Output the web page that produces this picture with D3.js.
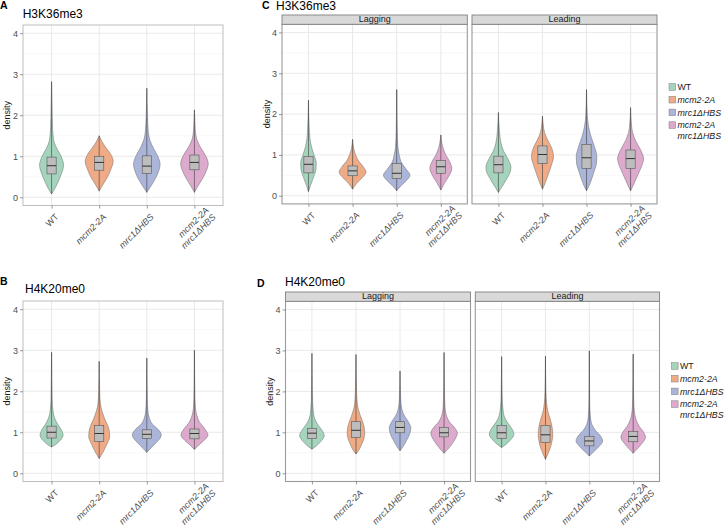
<!DOCTYPE html>
<html><head><meta charset="utf-8">
<script src="https://cdn.jsdelivr.net/npm/d3@7"></script>
<style>body{margin:0;background:#fff}svg{font-family:"Liberation Sans",Arial,sans-serif}</style>
</head><body><svg id="c" width="727" height="529"></svg>
<script>
// ---------- data ----------
const genotypes = ["WT", "mcm2-2A", "mrc1ΔHBS", "mcm2-2A\nmrc1ΔHBS"];
const genotypeColors = ["#a5d4bd", "#eeab86", "#abb5d9", "#dda9cc"];
const strands = ["Lagging", "Leading"];
const yTicks = [0, 1, 2, 3, 4];
const yMinorTicks = [0.5, 1.5, 2.5, 3.5];
const marks = ["A", "B", "C", "D"];
const titles = ["H3K36me3", "H4K20me0", "H3K36me3", "H4K20me0"];

// box stats per genotype: [q1, median, q3]
const boxH3All  = [[0.57,0.77,0.98],[0.66,0.85,1.00],[0.58,0.76,1.01],[0.67,0.85,1.03]];
const boxH4All  = [[0.86,1.00,1.15],[0.78,0.97,1.17],[0.85,0.95,1.06],[0.84,0.97,1.08]];
const boxH3Lag  = [[0.56,0.77,0.96],[0.49,0.61,0.73],[0.42,0.55,0.79],[0.55,0.71,0.86]];
const boxH3Lead = [[0.56,0.76,0.97],[0.79,1.01,1.22],[0.67,0.93,1.26],[0.67,0.91,1.12]];
const boxH4Lag  = [[0.85,0.98,1.10],[0.87,1.05,1.26],[0.99,1.12,1.26],[0.89,0.99,1.12]];
const boxH4Lead = [[0.85,0.99,1.17],[0.75,0.94,1.17],[0.67,0.79,0.90],[0.77,0.90,1.02]];

// violin profiles per genotype: [value, density]
const violinH3All = [
  [[0.08,0],[0.2,0.3],[0.35,0.6],[0.55,0.95],[0.78,1.2],[1.0,0.95],[1.2,0.5],[1.4,0.2],[1.7,0.1],[2.2,0.05],[2.82,0]],
  [[0.15,0],[0.3,0.35],[0.5,0.85],[0.7,1.2],[0.88,1.4],[1.05,1.15],[1.2,0.7],[1.35,0.3],[1.5,0]],
  [[0.12,0],[0.25,0.35],[0.45,0.85],[0.65,1.2],[0.8,1.33],[1.0,1.1],[1.2,0.65],[1.4,0.3],[1.6,0.15],[2.0,0.06],[2.66,0]],
  [[0.12,0],[0.25,0.3],[0.45,0.8],[0.65,1.2],[0.82,1.38],[1.0,1.15],[1.2,0.65],[1.4,0.25],[1.6,0.1],[1.9,0.04],[2.13,0]]
];
const violinH4All = [
  [[0.64,0],[0.7,0.4],[0.8,0.85],[0.93,1.15],[1.05,1.0],[1.2,0.6],[1.35,0.3],[1.5,0.15],[1.8,0.06],[2.3,0.03],[2.95,0]],
  [[0.36,0],[0.5,0.35],[0.7,0.75],[0.9,1.05],[1.1,0.95],[1.3,0.6],[1.5,0.3],[1.7,0.12],[2.0,0.05],[2.73,0]],
  [[0.51,0],[0.6,0.35],[0.75,0.95],[0.93,1.45],[1.08,1.1],[1.2,0.55],[1.35,0.25],[1.5,0.12],[1.8,0.05],[2.81,0]],
  [[0.58,0],[0.68,0.4],[0.8,0.95],[0.93,1.35],[1.08,1.05],[1.25,0.5],[1.4,0.25],[1.6,0.1],[2.0,0.04],[3.0,0]]
];
const violinH3Lag = [
  [[0.1,0],[0.25,0.2],[0.45,0.5],[0.65,0.75],[0.8,0.78],[1.0,0.55],[1.2,0.3],[1.4,0.15],[1.7,0.07],[2.34,0]],
  [[0.16,0],[0.3,0.4],[0.45,1.0],[0.58,1.35],[0.7,1.1],[0.85,0.6],[1.0,0.3],[1.15,0.12],[1.38,0]],
  [[0.12,0],[0.25,0.45],[0.38,1.0],[0.5,1.33],[0.65,0.95],[0.8,0.5],[1.0,0.25],[1.2,0.12],[1.6,0.05],[2.6,0]],
  [[0.14,0],[0.3,0.35],[0.5,0.85],[0.67,1.1],[0.85,0.85],[1.0,0.5],[1.15,0.25],[1.3,0.1],[1.49,0]]
];
const violinH3Lead = [
  [[0.08,0],[0.2,0.3],[0.4,0.8],[0.6,1.2],[0.7,1.25],[0.9,0.95],[1.1,0.5],[1.3,0.25],[1.6,0.1],[2.04,0]],
  [[0.16,0],[0.3,0.25],[0.5,0.55],[0.75,0.9],[0.95,1.1],[1.15,0.95],[1.35,0.55],[1.55,0.2],[1.75,0.07],[1.95,0]],
  [[0.12,0],[0.3,0.35],[0.55,0.7],[0.8,1.0],[0.95,1.03],[1.2,0.8],[1.45,0.45],[1.7,0.2],[2.0,0.07],[2.6,0]],
  [[0.12,0],[0.3,0.35],[0.55,0.8],[0.75,1.15],[0.9,1.3],[1.1,1.05],[1.35,0.5],[1.55,0.2],[1.8,0.07],[2.16,0]]
];
const violinH4Lag = [
  [[0.59,0],[0.66,0.4],[0.78,0.9],[0.92,1.23],[1.05,1.0],[1.2,0.55],[1.35,0.25],[1.55,0.12],[1.9,0.05],[2.93,0]],
  [[0.47,0],[0.55,0.25],[0.7,0.55],[0.85,0.8],[1.0,0.88],[1.2,0.75],[1.4,0.45],[1.6,0.2],[1.8,0.1],[2.1,0.05],[2.9,0]],
  [[0.55,0],[0.65,0.3],[0.8,0.65],[0.95,0.95],[1.1,1.08],[1.25,0.85],[1.4,0.45],[1.55,0.2],[1.8,0.07],[2.5,0]],
  [[0.49,0],[0.58,0.35],[0.72,0.8],[0.88,1.2],[0.98,1.33],[1.1,1.1],[1.25,0.55],[1.4,0.25],[1.6,0.1],[2.0,0.04],[2.95,0]]
];
const violinH4Lead = [
  [[0.63,0],[0.7,0.4],[0.82,0.9],[0.95,1.23],[1.1,1.0],[1.25,0.55],[1.4,0.25],[1.6,0.12],[1.9,0.05],[2.85,0]],
  [[0.34,0],[0.45,0.2],[0.6,0.45],[0.78,0.65],[0.93,0.73],[1.1,0.68],[1.3,0.5],[1.5,0.25],[1.7,0.12],[2.0,0.05],[2.86,0]],
  [[0.42,0],[0.52,0.4],[0.65,0.95],[0.79,1.33],[0.92,1.1],[1.05,0.6],[1.2,0.25],[1.4,0.1],[1.7,0.04],[2.99,0]],
  [[0.49,0],[0.58,0.35],[0.72,0.85],[0.88,1.23],[1.0,1.05],[1.15,0.6],[1.3,0.3],[1.5,0.12],[1.8,0.05],[2.91,0]]
];

// ---------- drawing ----------
const svg = d3.select("#c");
const dScale = d3.scaleLinear().domain([0, 1]).range([0, 10]);
const TXT = "#4d4d4d";

function drawFacet(f) {
  const g = svg.append("g");
  const y = d3.scaleLinear().domain([-0.2, 4.2]).range([f.bottom, f.top]);
  const x = d3.scalePoint().domain(genotypes).range([f.left, f.right]).padding(0.6);
  // grid
  g.selectAll(".gmin").data(yMinorTicks).join("line")
    .attr("x1", f.left).attr("x2", f.right).attr("y1", d => y(d)).attr("y2", d => y(d))
    .attr("stroke", "#f3f3f3").attr("stroke-width", 0.6);
  g.selectAll(".gmaj").data(yTicks).join("line")
    .attr("x1", f.left).attr("x2", f.right).attr("y1", d => y(d)).attr("y2", d => y(d))
    .attr("stroke", "#e6e6e6").attr("stroke-width", 0.9);
  g.selectAll(".gx").data(genotypes).join("line")
    .attr("x1", d => x(d)).attr("x2", d => x(d)).attr("y1", f.top).attr("y2", f.bottom)
    .attr("stroke", "#e6e6e6").attr("stroke-width", 0.9);
  // violins
  const area = d3.area().curve(d3.curveMonotoneY);
  genotypes.forEach((gt, i) => {
    const cx = x(gt);
    area.y(d => y(d[0])).x0(d => cx - dScale(d[1])).x1(d => cx + dScale(d[1]));
    const prof = f.violins[i];
    g.append("path").attr("d", area(prof))
      .attr("fill", genotypeColors[i]).attr("stroke", "#6a6a6a").attr("stroke-width", 0.5);
    g.append("line").attr("x1", cx).attr("x2", cx)
      .attr("y1", y(prof[0][0])).attr("y2", y(prof[prof.length - 1][0]))
      .attr("stroke", "#3a3a3a").attr("stroke-width", 0.6);
    const b = f.boxes[i];
    g.append("rect").attr("x", cx - 4.6).attr("width", 9.2)
      .attr("y", y(b[2])).attr("height", y(b[0]) - y(b[2]))
      .attr("fill", "#bdbdbd").attr("stroke", "#555").attr("stroke-width", 0.6);
    g.append("line").attr("x1", cx - 4.6).attr("x2", cx + 4.6)
      .attr("y1", y(b[1])).attr("y2", y(b[1]))
      .attr("stroke", "#333").attr("stroke-width", 1);
  });
  // border
  g.append("rect").attr("x", f.left).attr("y", f.top).attr("width", f.right - f.left)
    .attr("height", f.bottom - f.top).attr("fill", "none")
    .attr("stroke", f.borderColor).attr("stroke-width", f.borderWidth);
  // strip
  if (f.strip) {
    g.append("rect").attr("x", f.left).attr("y", f.stripTop).attr("width", f.right - f.left)
      .attr("height", f.top - f.stripTop).attr("fill", "#d9d9d9")
      .attr("stroke", "#808080").attr("stroke-width", 0.9);
    g.append("text").attr("x", (f.left + f.right) / 2).attr("y", f.top - 2)
      .attr("text-anchor", "middle").attr("font-size", 9).attr("fill", "#1a1a1a").text(f.strip);
  }
  // y axis
  if (f.yAxis) {
    const ax = g.append("g").attr("transform", `translate(${f.left},0)`)
      .call(d3.axisLeft(y).tickValues(yTicks).tickSize(3).tickPadding(2).tickFormat(d3.format("d")));
    ax.select(".domain").remove();
    ax.selectAll("line").attr("stroke", "#555").attr("stroke-width", 0.6);
    ax.selectAll("text").attr("font-size", 9).attr("fill", TXT).attr("font-family", null);
    g.append("text").attr("transform", `translate(${f.yTitleX},${(f.top + f.bottom) / 2}) rotate(-90)`)
      .attr("text-anchor", "middle").attr("font-size", 9).attr("fill", "#1a1a1a").text("density");
  }
  // x axis
  const xa = g.append("g").attr("transform", `translate(0,${f.bottom})`)
    .call(d3.axisBottom(x).tickSize(3).tickFormat(""));
  xa.select(".domain").remove();
  xa.selectAll("line").attr("stroke", "#555").attr("stroke-width", 0.6);
  genotypes.forEach((gt, i) => {
    const lines = gt.split("\n");
    const cx = x(gt);
    const t = g.append("text")
      .attr("transform", `translate(${cx + 3},${f.bottom + 7.5}) rotate(-45)`)
      .attr("text-anchor", "end").attr("font-size", 9).attr("fill", TXT)
      .attr("font-style", gt === "WT" ? "normal" : "italic");
    if (lines.length === 1) {
      t.append("tspan").attr("x", 0).attr("dy", "0.7em").text(lines[0]);
    } else {
      t.append("tspan").attr("x", 10).attr("y", 0).attr("dy", "0.75em").text(lines[0]);
      t.append("tspan").attr("x", 10).attr("dy", "1.1em").text(lines[1]);
    }
  });
}

function drawLegend(kx, ky) {
  const g = svg.append("g");
  let yy = ky;
  genotypes.forEach((gt, i) => {
    const lines = gt.split("\n");
    g.append("rect").attr("x", kx).attr("y", yy - 3.3).attr("width", 6.6).attr("height", 6.6)
      .attr("fill", genotypeColors[i]).attr("stroke", "#7a7a7a").attr("stroke-width", 0.5);
    const t = g.append("text").attr("x", kx + 8.5).attr("y", yy + 3.2).attr("font-size", 8.8)
      .attr("fill", "#1a1a1a").attr("font-style", gt === "WT" ? "normal" : "italic");
    lines.forEach((l, j) => t.append("tspan").attr("x", kx + 8.5).attr("dy", j ? "1.2em" : 0).text(l));
    yy += 12.7;
  });
}

function heading(mark, title, mx, my, tx, ty) {
  svg.append("text").attr("x", mx).attr("y", my).attr("font-size", 10.5).attr("font-weight", "bold")
    .attr("fill", "#000").text(mark);
  svg.append("text").attr("x", tx).attr("y", ty).attr("font-size", 12).attr("fill", "#000").text(title);
}

// Panel A
heading(marks[0], titles[0], 0, 9, 22.7, 18);
drawFacet({left: 23, right: 223, top: 25, bottom: 205.5, violins: violinH3All, boxes: boxH3All,
  yAxis: true, yTitleX: 10, borderColor: "#bdbdbd", borderWidth: 1});
// Panel B
heading(marks[1], titles[1], 0, 285, 25, 293);
drawFacet({left: 23, right: 223, top: 301, bottom: 481.5, violins: violinH4All, boxes: boxH4All,
  yAxis: true, yTitleX: 10, borderColor: "#bdbdbd", borderWidth: 1});
// Panel C
heading(marks[2], titles[2], 262, 9, 276, 10);
drawFacet({left: 282, right: 467.3, top: 24.3, bottom: 203.9, stripTop: 15, strip: strands[0],
  violins: violinH3Lag, boxes: boxH3Lag, yAxis: true, yTitleX: 269.5, borderColor: "#9a9a9a", borderWidth: 1.1});
drawFacet({left: 472, right: 657, top: 24.3, bottom: 203.9, stripTop: 15, strip: strands[1],
  violins: violinH3Lead, boxes: boxH3Lead, yAxis: false, borderColor: "#9a9a9a", borderWidth: 1.1});
drawLegend(669, 87);
// Panel D
heading(marks[3], titles[3], 257, 287, 285, 286);
drawFacet({left: 285.5, right: 470.5, top: 301.3, bottom: 481.5, stripTop: 292, strip: strands[0],
  violins: violinH4Lag, boxes: boxH4Lag, yAxis: true, yTitleX: 273, borderColor: "#9a9a9a", borderWidth: 1.1});
drawFacet({left: 475.3, right: 659.5, top: 301.3, bottom: 481.5, stripTop: 292, strip: strands[1],
  violins: violinH4Lead, boxes: boxH4Lead, yAxis: false, borderColor: "#9a9a9a", borderWidth: 1.1});
drawLegend(671.5, 366);
</script></body></html>
